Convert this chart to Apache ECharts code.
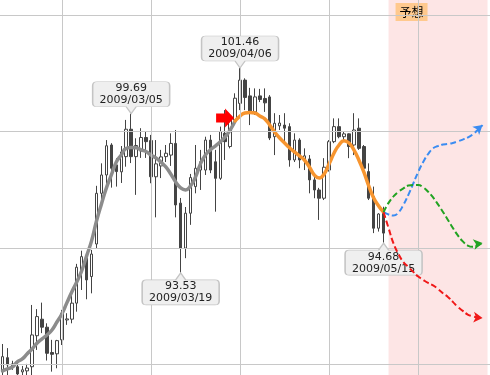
<!DOCTYPE html>
<html><head><meta charset="utf-8">
<script src="https://cdn.jsdelivr.net/npm/echarts@6/dist/echarts.min.js"></script>
<style>html,body{margin:0;padding:0;background:#fff}#c{width:490px;height:375px}</style>
</head><body><div id="c"></div>
<script>
// ---- categories: weekdays starting 2009/01/28 (99 slots incl. forecast) ----
const startDate = '2009-01-28';
const slotCount = 99;
const dates = [];
(function(){
  const d = new Date(startDate + 'T00:00:00Z');
  const p = n => (n < 10 ? '0' : '') + n;
  while (dates.length < slotCount) {
    const w = d.getUTCDay();
    if (w !== 0 && w !== 6) dates.push(d.getUTCFullYear() + '/' + p(d.getUTCMonth() + 1) + '/' + p(d.getUTCDate()));
    d.setUTCDate(d.getUTCDate() + 1);
  }
})();

// ---- OHLC: [open, close, low, high] ----
const candles = [
[89.70,90.29,89.47,90.78],[90.25,89.97,89.47,90.62],[89.93,90.01,89.78,90.13],[89.90,89.62,89.47,90.04],
[89.70,89.78,89.47,89.93],[89.74,89.85,89.51,90.01],[89.90,91.13,89.47,92.29],[91.10,91.84,90.55,92.13],
[91.74,91.43,91.20,92.38],[91.43,90.42,90.14,91.58],[90.45,90.38,89.71,90.94],[90.40,90.91,89.84,90.94],
[90.94,91.97,90.74,92.10],[91.71,91.75,91.52,91.97],[91.74,92.36,91.58,92.68],[92.36,93.75,92.03,93.88],
[93.58,94.16,92.87,94.39],[94.10,93.26,92.51,94.23],[93.39,94.26,92.74,94.42],[94.65,96.61,94.49,96.90],
[96.61,97.32,96.19,97.77],[97.32,98.45,96.93,98.67],[98.48,97.58,96.83,98.55],[97.71,97.45,96.87,97.97],
[97.44,98.21,97.01,98.44],[98.03,99.09,97.64,99.45],[99.09,98.03,97.78,99.69],[98.03,98.46,96.55,98.74],
[98.25,98.77,97.98,99.13],[98.77,98.61,97.98,99.00],[98.65,97.25,97.00,98.87],[97.25,97.75,95.68,98.67],
[97.67,98.02,97.20,98.29],[98.03,98.16,97.82,98.48],[98.09,98.54,97.67,98.93],[98.54,96.16,95.68,99.06],
[96.23,94.49,93.53,96.43],[94.49,95.84,94.10,96.08],[95.84,97.22,95.39,97.36],[96.87,97.58,96.61,98.48],
[97.51,97.83,96.74,98.29],[97.51,98.67,97.32,98.80],[98.67,97.51,97.39,98.87],[97.83,97.19,95.90,98.29],
[97.19,99.00,97.13,99.19],[98.93,98.61,97.90,99.83],[98.42,99.45,98.35,99.64],[99.45,100.29,99.32,100.48],
[100.09,100.99,99.83,101.46],[100.99,100.32,99.83,101.06],[100.38,99.76,99.25,100.69],[99.76,100.34,99.64,100.67],
[100.38,100.24,100.14,100.65],[100.28,100.11,99.76,100.67],[100.34,98.75,98.67,100.41],[98.80,99.32,98.09,99.71],
[99.22,99.33,99.06,99.64],[99.25,99.13,98.55,99.71],[99.19,97.90,97.64,99.32],[97.90,98.67,97.82,98.93],
[98.67,97.90,97.58,98.74],[97.90,98.06,97.51,98.35],[97.94,97.13,96.61,98.09],[97.13,96.74,96.42,97.32],
[96.74,96.42,95.58,96.82],[96.42,97.62,96.35,97.97],[97.51,98.61,97.45,98.67],[98.61,99.19,98.55,99.51],
[99.19,98.80,98.74,99.51],[98.80,98.91,98.67,99.00],[98.91,98.42,97.97,98.93],[98.48,99.06,98.09,99.71],
[99.13,98.35,98.29,99.51],[98.42,97.58,97.51,98.48],[97.45,96.42,96.35,97.77],[96.48,95.26,95.07,96.87],
[95.26,95.81,95.13,95.84],[95.84,95.07,94.68,96.09]
];

// ---- smoothed trend (gray part, then orange part from index 47) ----
const trendGray = [89.74,89.82,89.89,90.09,90.20,90.40,90.59,90.82,90.98,91.13,91.32,91.63,91.94,92.37,92.79,93.18,
93.61,94.19,94.77,95.54,96.20,96.82,97.32,97.82,98.09,98.35,98.38,98.37,98.29,98.23,98.09,97.98,97.82,97.63,97.36,
97.05,96.82,96.74,96.90,97.24,97.75,98.09,98.29,98.44,98.60,98.79,99.06,99.41];
const trendOrange = [99.41,99.60,99.72,99.74,99.72,99.60,99.49,99.25,98.98,98.75,98.56,98.37,98.21,98.06,97.90,97.63,
97.32,97.20,97.36,97.75,98.17,98.48,98.64,98.56,98.29,97.90,97.44,96.90,96.43,96.12,95.88];
const orangeStart = 47;

// ---- forecast scenarios (from index 77) ----
const forecastStart = 77;
const forecastBlue = [95.88,95.79,95.75,95.87,96.16,96.55,96.99,97.44,97.82,98.13,98.35,98.44,98.50,98.52,98.56,98.62,98.69,98.77,98.89,99.06,99.25];
const forecastGreen = [95.88,96.24,96.49,96.67,96.80,96.91,96.93,96.93,96.84,96.67,96.45,96.18,95.89,95.58,95.27,94.98,94.75,94.59,94.54,94.59,94.69];
const forecastRed = [95.88,95.27,94.67,94.26,93.95,93.76,93.57,93.39,93.26,93.14,93.05,92.91,92.74,92.60,92.41,92.21,92.06,91.92,91.85,91.81,91.79];

// ---- annotations ----
const highMarks = [26, 48];   // candle indices with callout above
const lowMarks = [36, 77];    // candle indices with callout below
const forecastLabel = '予想';
const gridValues = [90, 94.5, 99, 103.5];
const gridCats = [12, 30, 48, 66, 84];

function pad(arr, start) {
  const out = [];
  for (let i = 0; i < slotCount; i++) out.push(i >= start && i - start < arr.length ? arr[i - start] : '-');
  return out;
}
function withArrow(arr, start, rot) {
  const d = pad(arr, start);
  const last = start + arr.length - 1;
  d[last] = { value: d[last], symbol: 'arrow', symbolSize: [8, 9], symbolRotate: rot };
  return d;
}

const calloutDown = 'path://M4,0 H73 Q77,0 77,4 V21 Q77,25 73,25 H43.5 L38.5,32 L33.5,25 H4 Q0,25 0,21 V4 Q0,0 4,0 Z';
const calloutUp = 'path://M4,7 H33.5 L38.5,0 L43.5,7 H73 Q77,7 77,11 V28 Q77,32 73,32 H4 Q0,32 0,28 V11 Q0,7 4,7 Z';
const labelBase = { show: true, position: 'inside', color: '#222', fontFamily: 'DejaVu Sans', fontSize: 11, lineHeight: 12, align: 'center' };
const calloutStyle = { color: '#efefef', borderColor: '#c4c4c4', borderWidth: 1 };

const marks = [];
highMarks.forEach(i => {
  const v = candles[i][3];
  marks.push({ coord: [dates[i], v], symbol: calloutDown, symbolSize: [77, 32], symbolOffset: [0, -16],
    itemStyle: calloutStyle, label: Object.assign({}, labelBase, { formatter: v.toFixed(2) + '\n' + dates[i], offset: [0, -3.5] }) });
});
lowMarks.forEach(i => {
  const v = candles[i][2];
  marks.push({ coord: [dates[i], v], symbol: calloutUp, symbolSize: [77, 32], symbolOffset: [0, 16],
    itemStyle: calloutStyle, label: Object.assign({}, labelBase, { formatter: v.toFixed(2) + '\n' + dates[i], offset: [0, 3.5] }) });
});

const chart = echarts.init(document.getElementById('c'), null, { renderer: 'canvas' });
chart.setOption({
  animation: false,
  grid: { left: 0, top: 0, width: 492, bottom: 0, containLabel: false },
  xAxis: { type: 'category', data: dates, boundaryGap: true, show: false },
  yAxis: { type: 'value', min: 89.58, max: 104.09, show: false, splitLine: { show: false } },
  series: [
    { type: 'line', data: [], z: 1, silent: true,
      markLine: { silent: true, symbol: ['none', 'none'], label: { show: false },
        lineStyle: { color: '#c8c8c8', width: 1, type: 'solid' },
        data: gridValues.map(v => ({ yAxis: v })).concat(gridCats.map(i => ({ xAxis: dates[i] }))) } },
    { type: 'line', data: [], z: 2, silent: true,
      markArea: { silent: true, itemStyle: { color: 'rgba(248,160,160,0.28)' },
        label: { show: true, position: 'insideTopLeft', distance: 0, offset: [7, 3], color: '#000',
          fontFamily: 'Noto Sans CJK JP', fontSize: 12, backgroundColor: '#ffc98e', padding: [3, 4, 3, 4] },
        data: [[{ xAxis: dates[forecastStart + 1], name: forecastLabel }, { xAxis: dates[slotCount - 1] }]] } },
    { type: 'candlestick', data: candles, barWidth: 3, z: 3,
      itemStyle: { color: '#ffffff', color0: '#444444', borderColor: '#444444', borderColor0: '#444444', borderWidth: 1 } },
    { type: 'line', data: pad(trendGray, 0), smooth: true, symbol: 'none', z: 4,
      lineStyle: { color: '#8c8c8c', width: 3.5, cap: 'round' } },
    { type: 'line', data: pad(trendOrange, orangeStart), smooth: true, symbol: 'none', z: 4,
      lineStyle: { color: '#f7952f', width: 3.5, cap: 'round' },
      markPoint: { silent: true, data: [{ coord: [dates[orangeStart], trendOrange[0]],
        symbol: 'path://M0,5 H9 V0 L18,9.5 L9,19 V14 H0 Z', symbolSize: [18, 19], symbolOffset: [-10, -3],
        itemStyle: { color: '#ff0000' }, label: { show: false } }] } },
    { type: 'line', data: withArrow(forecastBlue, forecastStart, -50), smooth: true, symbol: 'none', showAllSymbol: true, z: 5,
      itemStyle: { color: '#3a8cf2' }, lineStyle: { color: '#3a8cf2', width: 2, type: [6, 3] } },
    { type: 'line', data: withArrow(forecastGreen, forecastStart, -80), smooth: true, symbol: 'none', showAllSymbol: true, z: 5,
      itemStyle: { color: '#22a322' }, lineStyle: { color: '#22a322', width: 2, type: [6, 3] } },
    { type: 'line', data: withArrow(forecastRed, forecastStart, -95), smooth: true, symbol: 'none', showAllSymbol: true, z: 5,
      itemStyle: { color: '#f01818' }, lineStyle: { color: '#f01818', width: 2, type: [6, 3] } },
    { type: 'line', data: [], z: 6, silent: true, markPoint: { silent: true, data: marks } }
  ]
});
</script></body></html>
